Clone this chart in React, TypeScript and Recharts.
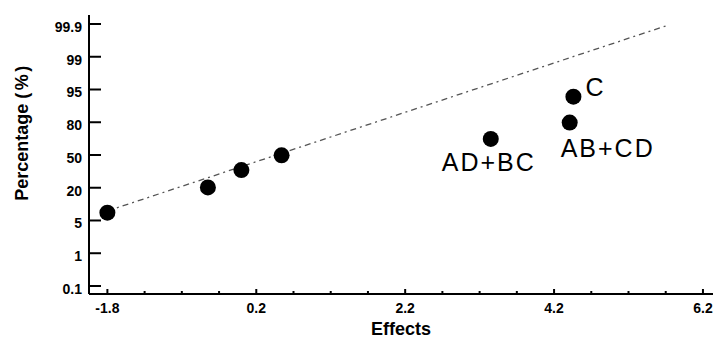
import React from 'react';
import { ScatterChart, Scatter, XAxis, YAxis, Label } from 'recharts';

// effect estimates (x) and their position on the probability scale (tick index)
const effectNames = ['', '', '', '', 'AD+BC', 'AB+CD', 'C'];
const effectValues = [-1.8, -0.45, 0.0, 0.54, 3.35, 4.41, 4.46];
const probIndex = [2.24, 3.01, 3.54, 3.99, 4.49, 4.99, 5.78];

// reference line end points
const fitX = [-1.8, 5.74];
const fitY = [2.29, 7.97];

// axis ticks
const yTickLabels = ['0.1', '1', '5', '20', '50', '80', '95', '99', '99.9'];
const xMajorTicks = [-1.8, 0.2, 2.2, 4.2, 6.2];
const xMinorTicks = [-1.3, -0.8, -0.3, 0.7, 1.2, 1.7, 2.7, 3.2, 3.7, 4.7, 5.2, 5.7];

const points = effectValues.map((x, i) => ({ x, y: probIndex[i], name: effectNames[i] }));
const fitLine = fitX.map((x, i) => ({ x, y: fitY[i] }));

const FONT = '"Liberation Sans", Arial, sans-serif';

const labelStyle: Record<string, { dx: number; dy: number; anchor: 'start' | 'middle' }> = {
  'AD+BC': { dx: -2, dy: 32, anchor: 'middle' },
  'AB+CD': { dx: 38, dy: 34.5, anchor: 'middle' },
  C: { dx: 12, dy: -1, anchor: 'start' },
};

const Dot = (props: any) => {
  const { cx, cy, payload } = props;
  const ls = payload && payload.name ? labelStyle[payload.name] : null;
  return (
    <g>
      <circle cx={cx} cy={cy} r={8} fill="#000" />
      {ls && (
        <text
          x={cx + ls.dx}
          y={cy + ls.dy}
          textAnchor={ls.anchor}
          fontFamily={FONT}
          fontSize={25}
          letterSpacing={2}
          fill="#000"
        >
          {payload.name}
        </text>
      )}
    </g>
  );
};

const XTick = (props: any) => {
  const { x, y, payload } = props;
  const major = xMajorTicks.includes(payload.value);
  return (
    <g>
      <line x1={x} x2={x} y1={y} y2={y - (major ? 5 : 3)} stroke="#000" strokeWidth={2} />
      {major && (
        <text x={x} y={y + 19} textAnchor="middle" fontFamily={FONT} fontWeight="bold" fontSize={14} fill="#000">
          {payload.value}
        </text>
      )}
    </g>
  );
};

const YTick = (props: any) => {
  const { x, y, payload } = props;
  return (
    <g>
      <line x1={x} x2={x + 12} y1={y} y2={y} stroke="#000" strokeWidth={2} />
      <text x={x - 7} y={y + 8} textAnchor="end" fontFamily={FONT} fontWeight="bold" fontSize={14} fill="#000">
        {yTickLabels[payload.value]}
      </text>
    </g>
  );
};

export default function App() {
  return (
    <div style={{ position: 'absolute', left: 0, top: 0, background: '#fff' }}>
      <ScatterChart width={713} height={338} margin={{ top: 15, right: 0, bottom: 0, left: 0 }}>
        <XAxis
          type="number"
          dataKey="x"
          domain={[-2.047, 6.335]}
          ticks={[...xMajorTicks, ...xMinorTicks].sort((a, b) => a - b)}
          interval={0}
          height={44}
          tickSize={0}
          tickMargin={0}
          tickLine={false}
          axisLine={{ stroke: '#000', strokeWidth: 2 }}
          tick={<XTick />}
          allowDataOverflow
        >
          <Label
            content={(p: any) => (
              <text
                x={p.viewBox.x + p.viewBox.width / 2}
                y={p.viewBox.y + 41}
                textAnchor="middle"
                fontFamily={FONT}
                fontWeight="bold"
                fontSize={18}
                fill="#000"
              >
                Effects
              </text>
            )}
          />
        </XAxis>
        <YAxis
          type="number"
          dataKey="y"
          domain={[-0.245, 8.275]}
          ticks={yTickLabels.map((_, i) => i)}
          interval={0}
          width={89}
          tickSize={0}
          tickMargin={0}
          tickLine={false}
          axisLine={{ stroke: '#000', strokeWidth: 2 }}
          tick={<YTick />}
          allowDataOverflow
        >
          <Label
            content={(p: any) => {
              const cx = p.viewBox.x + 28;
              const cy = 132;
              return (
                <text
                  x={cx}
                  y={cy}
                  transform={`rotate(-90, ${cx}, ${cy})`}
                  textAnchor="middle"
                  fontFamily={FONT}
                  fontWeight="bold"
                  fontSize={18}
                  fill="#000"
                >
                  Percentage <tspan letterSpacing={2.5}>(%)</tspan>
                </text>
              );
            }}
          />
        </YAxis>
        <Scatter
          data={fitLine}
          line={{ stroke: '#555', strokeWidth: 1.3, strokeDasharray: '6 4 2 4' }}
          shape={() => <g />}
          isAnimationActive={false}
        />
        <Scatter data={points} shape={<Dot />} isAnimationActive={false} />
      </ScatterChart>
    </div>
  );
}
